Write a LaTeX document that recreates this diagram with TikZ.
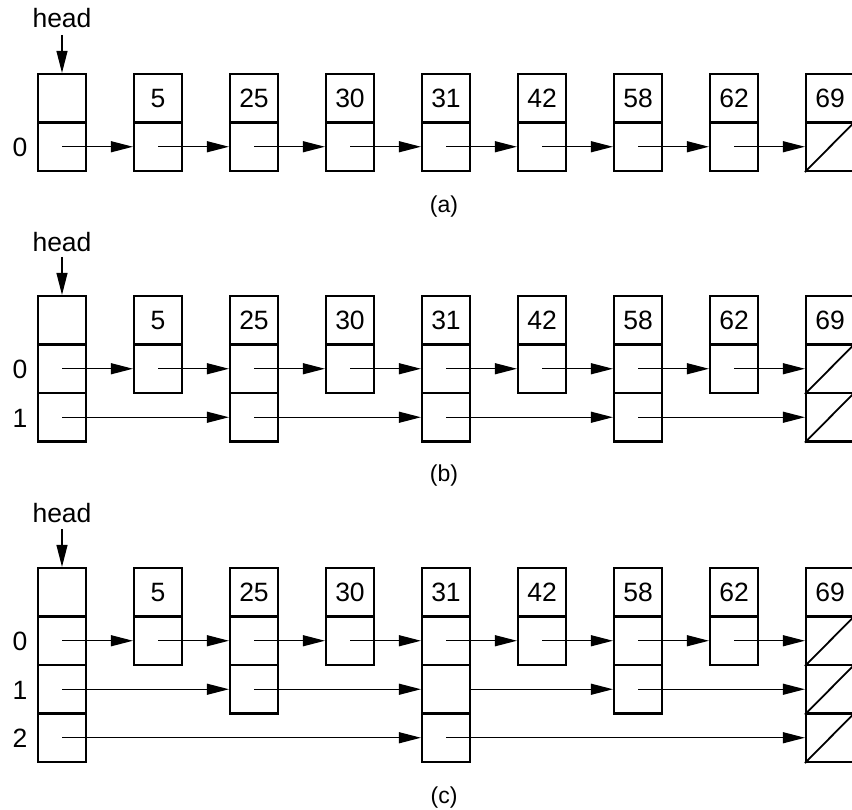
\documentclass[tikz,border=0pt]{standalone}
\usepackage{fontspec}
\setmainfont{Liberation Sans}
\usetikzlibrary{arrows.meta}
\tikzset{
  cell/.style={draw,line width=2.2pt,minimum width=48pt,minimum height=48.5pt,inner sep=0pt,font=\fontsize{26.5}{31}\selectfont},
  link/.style={-{Triangle[length=22pt,width=11pt]},line width=1.2pt},
  nil/.style={line width=1.8pt},
  txt/.style={font=\fontsize{26.5}{31}\selectfont,inner sep=0pt},
  captxt/.style={font=\fontsize{23}{27}\selectfont,inner sep=0pt}
}
% #1 prefix, #2 box index, #3 top y, #4 key text, #5 highest level
\newcommand\skbox[5]{%
  \node[cell] (#1#2k) at ({62+96*#2},{#3+24.25}) {#4};
  \foreach \L in {0,...,#5}{%
    \node[cell] (#1#2l\L) at ({62+96*#2},{#3+24.25+48.5*(\L+1)}) {};
  }%
}
\begin{document}
\begin{tikzpicture}[x=1pt,y=-1pt]
\useasboundingbox (0,0) rectangle (852,810);
\clip (0,0) rectangle (852,810);

% ================= (a) =================
\skbox{a}{0}{74}{}{0}
\skbox{a}{1}{74}{5}{0}
\skbox{a}{2}{74}{25}{0}
\skbox{a}{3}{74}{30}{0}
\skbox{a}{4}{74}{31}{0}
\skbox{a}{5}{74}{42}{0}
\skbox{a}{6}{74}{58}{0}
\skbox{a}{7}{74}{62}{0}
\skbox{a}{8}{74}{69}{0}
\node[txt] (hda) at (62,18) {head};
\coordinate (hsa) at (62,35);
\draw[link] (hsa) -- (a0k.north);
\node[txt] (la0) at (20,147) {0};
\foreach \i [evaluate=\i as \j using int(\i+1)] in {0,...,7}{
  \draw[link] (a\i l0.center) -- (a\j l0.west);
}
\draw[nil] (a8l0.south west) -- (a8l0.north east);
\node[captxt] (capa) at (444,207) {(a)};

% ================= (b) =================
\skbox{b}{0}{296}{}{1}
\skbox{b}{1}{296}{5}{0}
\skbox{b}{2}{296}{25}{1}
\skbox{b}{3}{296}{30}{0}
\skbox{b}{4}{296}{31}{1}
\skbox{b}{5}{296}{42}{0}
\skbox{b}{6}{296}{58}{1}
\skbox{b}{7}{296}{62}{0}
\skbox{b}{8}{296}{69}{1}
\node[txt] (hdb) at (62,242) {head};
\coordinate (hsb) at (62,257);
\draw[link] (hsb) -- (b0k.north);
\node[txt] (lb0) at (20,369.5) {0};
\node[txt] (lb1) at (20,418) {1};
\foreach \i [evaluate=\i as \j using int(\i+1)] in {0,...,7}{
  \draw[link] (b\i l0.center) -- (b\j l0.west);
}
\draw[link] (b0l1.center) -- (b2l1.west);
\draw[link] (b2l1.center) -- (b4l1.west);
\draw[link] (b4l1.center) -- (b6l1.west);
\draw[link] (b6l1.center) -- (b8l1.west);
\draw[nil] (b8l0.south west) -- (b8l0.north east);
\draw[nil] (b8l1.south west) -- (b8l1.north east);
\node[captxt] (capb) at (444,476) {(b)};

% ================= (c) =================
\skbox{c}{0}{568}{}{2}
\skbox{c}{1}{568}{5}{0}
\skbox{c}{2}{568}{25}{1}
\skbox{c}{3}{568}{30}{0}
\skbox{c}{4}{568}{31}{2}
\skbox{c}{5}{568}{42}{0}
\skbox{c}{6}{568}{58}{1}
\skbox{c}{7}{568}{62}{0}
\skbox{c}{8}{568}{69}{2}
\node[txt] (hdc) at (62,513) {head};
\coordinate (hsc) at (62,529);
\draw[link] (hsc) -- (c0k.north);
\node[txt] (lc0) at (20,641.5) {0};
\node[txt] (lc1) at (20,690) {1};
\node[txt] (lc2) at (20,738.5) {2};
\foreach \i [evaluate=\i as \j using int(\i+1)] in {0,...,7}{
  \draw[link] (c\i l0.center) -- (c\j l0.west);
}
\draw[link] (c0l1.center) -- (c2l1.west);
\draw[link] (c2l1.center) -- (c4l1.west);
\draw[link] (c4l1.east) -- (c6l1.west);
\draw[link] (c6l1.center) -- (c8l1.west);
\draw[link] (c0l2.center) -- (c4l2.west);
\draw[link] (c4l2.center) -- (c8l2.west);
\draw[nil] (c8l0.south west) -- (c8l0.north east);
\draw[nil] (c8l1.south west) -- (c8l1.north east);
\draw[nil] (c8l2.south west) -- (c8l2.north east);
\node[captxt] (capc) at (444,798) {(c)};
\end{tikzpicture}
\end{document}
